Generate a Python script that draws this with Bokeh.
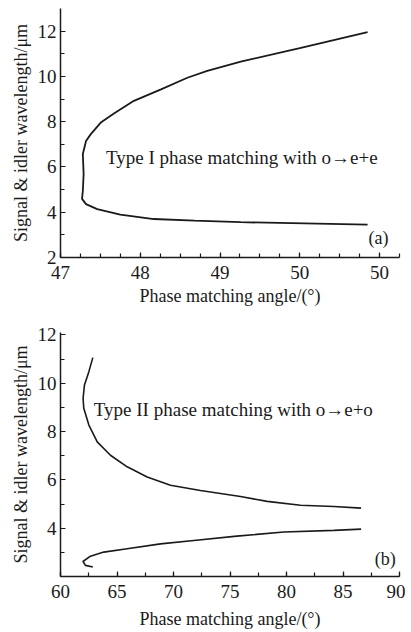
from bokeh.plotting import figure
from bokeh.layouts import column
from bokeh.models import FixedTicker, Label, Range1d
from bokeh.embed import file_html
from bokeh.resources import INLINE

# ---- data: panel (a) Type I, one continuous curve (upper branch -> turning point -> lower branch)
a_angle = [50.85, 50.00, 49.26, 48.84, 48.59, 48.26, 47.92, 47.67, 47.51, 47.38,
           47.32, 47.28, 47.29, 47.28, 47.27, 47.32, 47.46, 47.75, 48.17, 48.68,
           49.26, 50.85]
a_wavelength = [11.96, 11.25, 10.65, 10.24, 9.94, 9.43, 8.92, 8.36, 7.98, 7.45,
                7.15, 6.57, 5.69, 4.95, 4.59, 4.36, 4.14, 3.89, 3.70, 3.63,
                3.56, 3.45]

# ---- data: panel (b) Type II, two branches
b_upper_angle = [62.86, 62.51, 62.12, 62.00, 62.06, 62.51, 63.25, 64.42, 65.90, 67.67,
                 69.73, 72.39, 75.93, 78.29, 81.24, 84.19, 86.60]
b_upper_wavelength = [11.06, 10.48, 9.93, 9.37, 8.96, 8.27, 7.57, 7.02, 6.54, 6.12,
                      5.78, 5.56, 5.31, 5.11, 4.95, 4.90, 4.83]
b_lower_angle = [62.86, 62.21, 61.99, 62.65, 63.83, 65.90, 68.85, 71.80, 75.60, 79.76,
                 84.19, 86.60]
b_lower_wavelength = [2.39, 2.46, 2.62, 2.84, 3.01, 3.15, 3.35, 3.49, 3.67, 3.84,
                      3.91, 3.96]

# tick definitions
a_xticks = [47, 48, 49, 50, 51]
a_xtick_labels = {47: "47", 48: "48", 49: "49", 50: "50", 51: "50"}
a_yticks = [2, 4, 6, 8, 10, 12]
b_xticks = [60, 65, 70, 75, 80, 85, 90]
b_yticks = [4, 6, 8, 10, 12]

FONT = "Liberation Serif"
INK = "#1a1a1a"
XLABEL = "Phase matching angle/(°)"
YLABEL = "Signal & idler wavelength/μm"


def style(p, x_label_standoff):
    p.grid.visible = False
    p.outline_line_color = None
    p.background_fill_color = "white"
    p.border_fill_color = "white"
    for ax in (p.xaxis[0], p.yaxis[0]):
        ax.axis_line_color = INK
        ax.axis_line_width = 1.5
        ax.major_tick_line_color = INK
        ax.minor_tick_line_color = INK
        ax.major_tick_line_width = 1.2
        ax.minor_tick_line_width = 1.2
        ax.major_tick_in = 5
        ax.major_tick_out = 0
        ax.minor_tick_in = 4
        ax.minor_tick_out = 0
        ax.major_label_text_font = FONT
        ax.major_label_text_font_size = "19px"
        ax.major_label_text_color = INK
        ax.axis_label_text_font = FONT
        ax.axis_label_text_font_size = "18px"
        ax.axis_label_text_font_style = "normal"
        ax.axis_label_text_color = INK
    p.xaxis.major_label_standoff = 8
    p.yaxis.major_label_standoff = 4
    p.xaxis.axis_label_standoff = x_label_standoff
    p.yaxis.axis_label_standoff = 4


# ---- panel (a)
pa = figure(width=405, height=308, output_backend="svg", toolbar_location=None,
            x_range=Range1d(47, 51.25), y_range=Range1d(2, 13),
            min_border_left=60, min_border_right=6, min_border_top=8, min_border_bottom=51)
pa.line(a_angle, a_wavelength, line_color=INK, line_width=1.8)
pa.xaxis.ticker = FixedTicker(ticks=a_xticks,
                              minor_ticks=[47 + 0.25 * i for i in range(18)])
pa.xaxis.major_label_overrides = a_xtick_labels
pa.yaxis.ticker = FixedTicker(ticks=a_yticks, minor_ticks=[3, 5, 7, 9, 11])
pa.xaxis.axis_label = XLABEL
pa.yaxis.axis_label = YLABEL
style(pa, 4)
pa.add_layout(Label(x=47.57, y=6.4, text="Type I phase matching with o→e+e",
                    text_font=FONT, text_font_size="19px", text_color=INK,
                    text_baseline="middle"))
pa.add_layout(Label(x=50.86, y=2.84, text="(a)", text_font=FONT,
                    text_font_size="18px", text_color=INK, text_baseline="middle"))

# ---- panel (b)
pb = figure(width=405, height=324, output_backend="svg", toolbar_location=None,
            x_range=Range1d(60, 90), y_range=Range1d(2, 12.1),
            min_border_left=60, min_border_right=6, min_border_top=24, min_border_bottom=56)
pb.line(b_upper_angle, b_upper_wavelength, line_color=INK, line_width=1.6)
pb.line(b_lower_angle, b_lower_wavelength, line_color=INK, line_width=1.6)
pb.xaxis.ticker = FixedTicker(ticks=b_xticks,
                              minor_ticks=[60 + 2.5 * i for i in range(13)])
pb.yaxis.ticker = FixedTicker(ticks=b_yticks, minor_ticks=[3, 5, 7, 9, 11])
pb.xaxis.axis_label = XLABEL
pb.yaxis.axis_label = YLABEL
style(pb, 8)
pb.add_layout(Label(x=62.95, y=8.93, text="Type II phase matching with o→e+o",
                    text_font=FONT, text_font_size="19px", text_color=INK,
                    text_baseline="middle"))
pb.add_layout(Label(x=87.8, y=2.71, text="(b)", text_font=FONT,
                    text_font_size="18px", text_color=INK, text_baseline="middle"))

layout = column(pa, pb, spacing=0)
open("out.html", "w").write(file_html(layout, INLINE))
